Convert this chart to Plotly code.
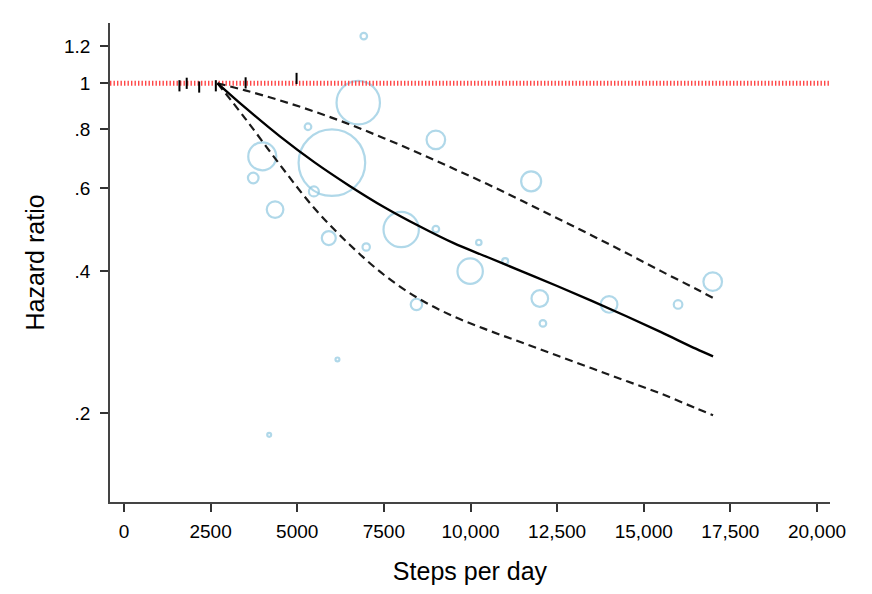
import math
import plotly.graph_objects as go

# ---- data ----
bubble_steps = [6920, 6760, 5310, 9000, 3990, 6000, 3730, 5480, 11750, 4360,
                8000, 9000, 5910, 6990, 10240, 9990, 11000, 8440, 12000, 12090,
                14000, 15990, 16990, 6160, 4190]
bubble_hr = [1.259, 0.910, 0.809, 0.759, 0.700, 0.679, 0.630, 0.590, 0.620, 0.540,
             0.490, 0.491, 0.470, 0.450, 0.460, 0.400, 0.420, 0.340, 0.350, 0.310,
             0.340, 0.340, 0.380, 0.260, 0.180]
bubble_weight = [0.37, 15.9, 0.37, 2.92, 6.61, 37.4, 0.95, 0.84, 3.37, 2.33,
                 10.56, 0.37, 1.65, 0.46, 0.25, 5.43, 0.30, 1.10, 2.33, 0.37,
                 2.33, 0.62, 2.92, 0.13, 0.13]

ref_steps = [1600, 1810, 2170, 2650, 3510, 4980]
ref_hr = [0.988, 1.0, 0.982, 0.988, 1.002, 1.024]

curve_steps = [2700, 3500, 4500, 5500, 6500, 7500, 8500, 9500, 10500,
               11500, 12500, 13500, 14500, 15500, 16500, 17000]
curve_hr = [1.000, 0.888, 0.772, 0.680, 0.607, 0.547, 0.499, 0.459, 0.428,
            0.399, 0.372, 0.346, 0.321, 0.297, 0.274, 0.264]
upper_hr = [1.000, 0.966, 0.920, 0.871, 0.819, 0.765, 0.712, 0.660, 0.611,
            0.563, 0.518, 0.476, 0.437, 0.400, 0.367, 0.351]
lower_hr = [1.000, 0.842, 0.672, 0.543, 0.456, 0.393, 0.350, 0.321, 0.300,
            0.282, 0.265, 0.249, 0.234, 0.220, 0.205, 0.198]

x_ticks = [0, 2500, 5000, 7500, 10000, 12500, 15000, 17500, 20000]
x_ticktext = ["0", "2500", "5000", "7500", "10,000", "12,500", "15,000", "17,500", "20,000"]
y_ticks = [0.2, 0.4, 0.6, 0.8, 1.0, 1.2]
y_ticktext = [".2", ".4", ".6", ".8", "1", "1.2"]

x_range = [-404, 20375]
y_range = [0.1297, 1.342]
null_hr = 1.0

fig = go.Figure()

fig.add_trace(go.Scatter(
    x=bubble_steps, y=bubble_hr, mode="markers",
    marker=dict(symbol="circle-open", size=bubble_weight, sizemode="area",
                sizeref=1 / 59.3, color="#8fc8df", line=dict(width=2.2)),
    hoverinfo="skip", showlegend=False))

fig.add_trace(go.Scatter(
    x=x_range, y=[null_hr, null_hr], mode="lines",
    line=dict(color="#ff4646", width=5, dash="1.4px,2.1px"),
    hoverinfo="skip", showlegend=False))

fig.add_trace(go.Scatter(
    x=ref_steps, y=ref_hr, mode="markers",
    marker=dict(symbol="line-ns", size=8, color="black", line=dict(width=2, color="black")),
    hoverinfo="skip", showlegend=False))

for vals in (upper_hr, lower_hr):
    fig.add_trace(go.Scatter(
        x=curve_steps, y=vals, mode="lines", line_shape="spline",
        line=dict(color="#1a1a1a", width=2.2, dash="8px,5px"),
        hoverinfo="skip", showlegend=False))

fig.add_trace(go.Scatter(
    x=curve_steps, y=curve_hr, mode="lines", line_shape="spline",
    line=dict(color="black", width=2.4),
    hoverinfo="skip", showlegend=False))

font_family = "Liberation Sans, Arial, sans-serif"

fig.update_layout(
    width=864, height=586,
    margin=dict(l=102, r=42, t=15, b=92),
    paper_bgcolor="white", plot_bgcolor="white",
    font=dict(family=font_family, color="black"),
    xaxis=dict(
        range=x_range, tickvals=x_ticks, ticktext=x_ticktext,
        showgrid=False, zeroline=False, showline=True, linecolor="#444444", linewidth=1.5,
        ticks="outside", ticklen=8, tickwidth=1.5, tickcolor="#333333",
        tickfont=dict(size=19), ticklabelstandoff=3,
        title=dict(text="Steps per day", font=dict(size=25), standoff=22),
    ),
    yaxis=dict(
        type="log", range=[math.log10(y_range[0]), math.log10(y_range[1])],
        tickvals=y_ticks, ticktext=y_ticktext,
        showgrid=False, zeroline=False, showline=True, linecolor="#444444", linewidth=1.5,
        ticks="outside", ticklen=8, tickwidth=1.5, tickcolor="#333333",
        tickfont=dict(size=19), ticklabelstandoff=6,
        title=dict(text="Hazard ratio", font=dict(size=25), standoff=12),
    ),
)

fig.write_html("out.html")
